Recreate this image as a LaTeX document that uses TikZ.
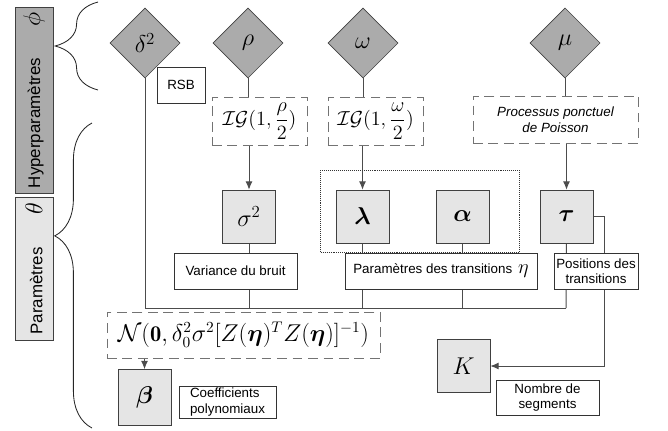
\documentclass[tikz,border=0pt]{standalone}
\usepackage{fontspec}
\setsansfont{Liberation Sans}
\usepackage{amsmath,amssymb}
\usetikzlibrary{shapes.geometric,decorations.pathreplacing,arrows.meta,backgrounds}

\tikzset{
	hyper/.style={diamond,draw=black!75,fill=black!33,minimum width=1.75cm,minimum height=1.75cm,inner sep=0pt,font=\LARGE},
	param/.style={rectangle,draw=black!75,fill=black!10,minimum width=1.325cm,minimum height=1.325cm,inner sep=0pt,font=\LARGE},
	loi/.style={rectangle,draw=black!55,fill=white,dash pattern=on 7pt off 4pt,inner sep=1pt,font=\Large},
	lbl/.style={rectangle,draw=black!80,fill=white,align=center,inner sep=1pt,font={\sffamily\fontsize{9.5}{11}\selectfont}},
	side/.style={rectangle,draw=black!75,rotate=90,inner sep=3pt,minimum height=0.95cm,font={\sffamily\large}},
	link/.style={draw=black!70,line width=0.7pt},
	arr/.style={link,-{Latex[length=6pt,width=5pt]}},
	bracket/.style={draw=black!85,decorate,line width=0.6pt}
}

\begin{document}
\begin{tikzpicture}[x=0.025cm,y=-0.025cm]

	\useasboundingbox (0,0) rectangle (668,430);

	% colonne de gauche
	\node[side,fill=black!33,minimum width=4.65cm,text width=4.4cm] (lhyper) at (34,100) {Hyperparamètres\hfill{\LARGE$\phi$}};
	\node[side,fill=black!10,minimum width=3.575cm,text width=3.3cm] (lparam) at (34,268.5) {Paramètres\hfill{\LARGE$\theta$}};

	\draw[bracket,decoration={brace,amplitude=1.07cm}] (98,90) -- (98,2);
	\draw[bracket,decoration={brace,amplitude=0.93cm,aspect=0.63}] (92,428) -- (92,123);

	% hyperparametres
	\node[hyper] (d2) at (145,43) {$\delta^2$};
	\node[hyper] (rho) at (248,43) {$\rho$};
	\node[hyper] (omega) at (363,43) {$\omega$};
	\node[hyper] (mu) at (565,43) {$\mu$};

	\node[lbl,minimum width=1.2cm,minimum height=0.9cm] (lsnr) at (181,85) {RSB};

	% lois a priori
	\node[loi,minimum width=2.375cm,minimum height=1.2cm] (igrho) at (259.5,121) {$\mathcal{IG}(1,\dfrac{\rho}{2})$};
	\node[loi,minimum width=2.375cm,minimum height=1.2cm] (igomega) at (375.5,121) {$\mathcal{IG}(1,\dfrac{\omega}{2})$};
	\node[loi,minimum width=4.125cm,minimum height=1.175cm,align=center,font={\sffamily\itshape\fontsize{9.5}{11}\selectfont}] (poisson) at (555.5,119.5) {Processus ponctuel\\de Poisson};

	% parametres
	\node[param] (sigma) at (249,216.5) {$\sigma^2$};
	\node[param] (lambda) at (362.5,216.5) {$\boldsymbol{\lambda}$};
	\node[param] (alpha) at (462.5,216.5) {$\boldsymbol{\alpha}$};
	\node[param] (tau) at (566.5,216.5) {$\boldsymbol{\tau}$};
	\draw[black!80,densely dotted] (320,170) rectangle (519,252);

	\node[lbl,minimum width=3.075cm,minimum height=0.9cm] (lvar) at (235.5,271) {Variance du bruit};
	\node[lbl,minimum width=4.8cm,minimum height=0.9cm] (leta) at (441,271) {Paramètres des transitions \,{\Large$\eta$}};
	\node[lbl,minimum width=2.1cm,minimum height=0.9cm] (lpos) at (596,271) {Positions des\\transitions};

	\node[loi,minimum width=6.825cm,minimum height=1.15cm,font={\fontsize{16}{19}\selectfont}] (normal) at (243.5,335) {$\mathcal{N}(\mathbf{0},\delta_0^2\sigma^2[Z(\boldsymbol{\eta})^TZ(\boldsymbol{\eta})]^{-1})$};

	\node[param,minimum height=1.4cm] (beta) at (144.5,397.5) {$\boldsymbol{\beta}$};
	\node[lbl,minimum width=2.425cm,minimum height=0.8cm,align=left] (lcoef) at (227.5,402) {Coefficients\\polynomiaux};

	\node[param] (K) at (463.5,366) {$K$};
	\node[lbl,minimum width=2.575cm,minimum height=0.875cm] (lseg) at (547.5,397.5) {Nombre de\\segments};

	\coordinate (busL) at (145,308);
	\coordinate (busR) at (566,308);
	\coordinate (turn) at (604,366);

	\begin{scope}[on background layer]
		\draw[link] (d2) -- (busL) -- (busR);
		\draw[link] (rho) -- (igrho.north -| rho);
		\draw[link] (omega) -- (igomega.north -| omega);
		\draw[link] (mu) -- (poisson.north -| mu);
		\draw[arr] (igrho.south -| sigma) -- (sigma);
		\draw[arr] (igomega.south -| lambda) -- (lambda);
		\draw[arr] (poisson.south -| tau) -- (tau);
		\draw[link] (sigma) -- (sigma |- busL);
		\draw[link] (lambda) -- (lambda |- busL);
		\draw[link] (alpha) -- (alpha |- busL);
		\draw[link] (tau) -- (busR);
		\draw[arr] (tau.east) -| (turn) -- (K);
		\draw[arr] (normal.south -| beta) -- (beta);
	\end{scope}

\end{tikzpicture}
\end{document}
